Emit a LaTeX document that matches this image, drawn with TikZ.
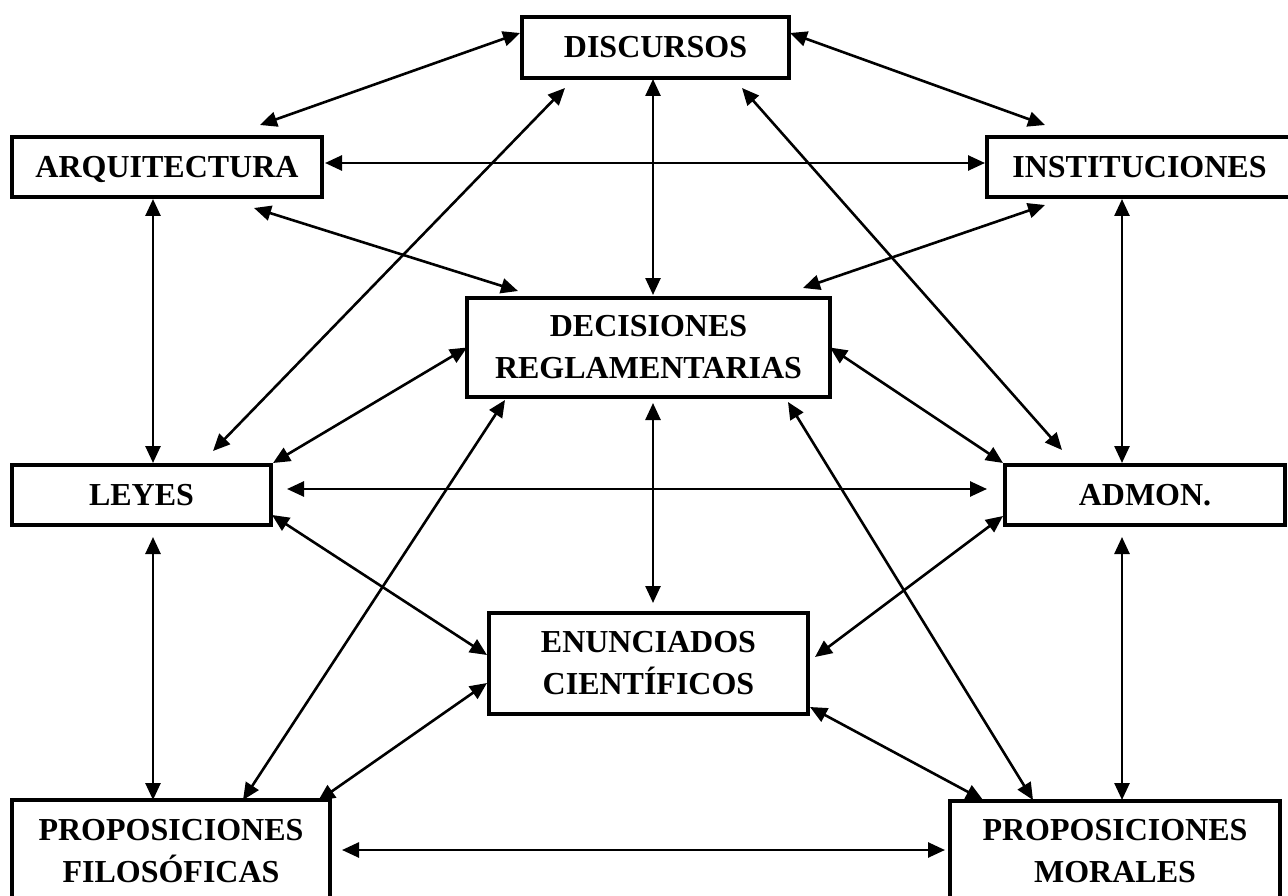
\documentclass[tikz,border=0pt]{standalone}
\usepackage{fontspec}
\setmainfont{Liberation Serif}
\usetikzlibrary{arrows.meta}

\begin{document}
\begin{tikzpicture}[
  x=1pt, y=-1pt,
  box/.style 2 args={draw, line width=4pt, outer sep=0pt, inner sep=0pt, minimum width=#1, minimum height=#2, align=center, font=\bfseries\fontsize{32}{42}\selectfont},
  link/.style={{Triangle[length=17pt, width=15pt]}-{Triangle[length=17pt, width=15pt]}, line width=2.6pt}
]
  \clip (0,0) rectangle (1288,896);

  \node[box={267pt}{61pt}] (dis) at (655.5,47.5) {DISCURSOS};
  \node[box={310pt}{60pt}, text depth=0pt] (arq) at (167,167) {ARQUITECTURA};
  \node[box={305pt}{60pt}] (ins) at (1139.5,167) {INSTITUCIONES};
  \node[box={363pt}{99pt}] (dec) at (648.5,347.5) {DECISIONES\\REGLAMENTARIAS};
  \node[box={259pt}{60pt}] (ley) at (141.5,495) {LEYES};
  \node[box={280pt}{60pt}] (adm) at (1145,495) {ADMON.};
  \node[box={319pt}{101pt}] (enu) at (648.5,663.5) {ENUNCIADOS\\CIENTÍFICOS};
  \node[box={318pt}{102pt}] (fil) at (171,851) {PROPOSICIONES\\FILOSÓFICAS};
  \node[box={330pt}{101pt}] (mor) at (1115,851.5) {PROPOSICIONES\\MORALES};

  % top row
  \draw[link] ([shift={(-2,-14.5)}]dis.west) -- ([shift={(-62,-12)}]arq.north east);
  \draw[link] ([shift={(1,-14.5)}]dis.east) -- ([shift={(58,-12)}]ins.north west);
  \draw[link] ([shift={(3,-4)}]arq.east) -- ([shift={(-2,-4)}]ins.west);
  \draw[link] ([shift={(-2.5,1)}]dis.south) -- ([shift={(4.5,-3)}]dec.north);
  \draw[link] ([shift={(43,10)}]dis.south west) -- ([shift={(-58,-14)}]ley.north east);
  \draw[link] ([shift={(-47,10)}]dis.south east) -- ([shift={(57,-15)}]adm.north west);
  \draw[link] ([shift={(-68,11)}]arq.south east) -- ([shift={(51,-7)}]dec.north west);
  \draw[link] ([shift={(58,8)}]ins.south west) -- ([shift={(-27,-10)}]dec.north east);
  \draw[link] ([shift={(-14,2)}]arq.south) -- ([shift={(11.5,-2)}]ley.north);
  \draw[link] ([shift={(-17.5,2)}]ins.south) -- ([shift={(-23,-2)}]adm.north);

  % middle
  \draw[link] (dec.west) -- ([shift={(2,-2)}]ley.north east);
  \draw[link] (dec.east) -- ([shift={(-2,-2)}]adm.north west);
  \draw[link] ([shift={(16,-6)}]ley.east) -- ([shift={(-18,-6)}]adm.west);
  \draw[link] ([shift={(4.5,6)}]dec.south) -- ([shift={(4.5,-10)}]enu.north);
  \draw[link] ([shift={(38,3)}]dec.south west) -- ([shift={(72,0)}]fil.north);
  \draw[link] ([shift={(-42,5)}]dec.south east) -- ([shift={(83,-1)}]mor.north west);
  \draw[link] ([shift={(1,-10)}]ley.south east) -- ([shift={(-2,-8.5)}]enu.west);
  \draw[link] ([shift={(-2,-9)}]adm.south west) -- ([shift={(7,-6.5)}]enu.east);

  % bottom row
  \draw[link] ([shift={(11.5,12)}]ley.south) -- ([shift={(-18,0)}]fil.north);
  \draw[link] ([shift={(-23,12)}]adm.south) -- ([shift={(7,-1)}]mor.north);
  \draw[link] ([shift={(-2,19.5)}]enu.west) -- ([shift={(-12,1)}]fil.north east);
  \draw[link] ([shift={(2,-7)}]enu.south east) -- ([shift={(33,-1)}]mor.north west);
  \draw[link] ([shift={(12,-1)}]fil.east) -- ([shift={(-5,-1.5)}]mor.west);
\end{tikzpicture}
\end{document}
